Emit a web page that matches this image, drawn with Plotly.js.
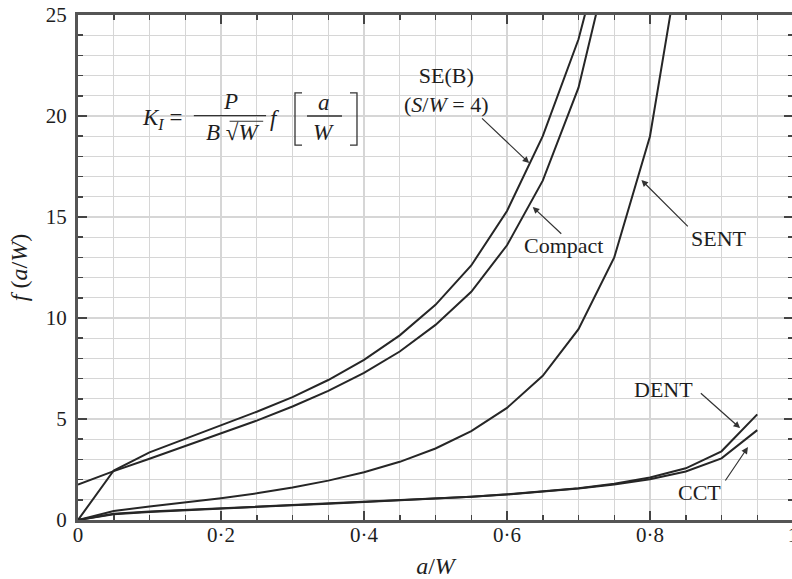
<!DOCTYPE html>
<html>
<head>
<meta charset="utf-8">
<script src="https://cdn.plot.ly/plotly-3.0.1.min.js"></script>
<style>
html,body{margin:0;padding:0;background:#fff;overflow:hidden;}
#chart{width:800px;height:579px;}
</style>
</head>
<body>
<div id="chart"></div>
<script>
// ---- data ----
const aW = [0, 0.05, 0.1, 0.15, 0.2, 0.25, 0.3, 0.35, 0.4, 0.45, 0.5, 0.55, 0.6, 0.65, 0.7, 0.75, 0.8, 0.85, 0.9, 0.95];

const seb_x = [0, 0.05, 0.1, 0.15, 0.2, 0.25, 0.3, 0.35, 0.4, 0.45, 0.5, 0.55, 0.6, 0.65, 0.7, 0.72];
const seb_y = [0, 2.45, 3.35, 4.02, 4.70, 5.36, 6.08, 6.93, 7.93, 9.14, 10.65, 12.6, 15.3, 19.0, 23.8, 26.5];

const compact_x = [0, 0.05, 0.1, 0.15, 0.2, 0.25, 0.3, 0.35, 0.4, 0.45, 0.5, 0.55, 0.6, 0.65, 0.7, 0.75];
const compact_y = [1.75, 2.42, 3.03, 3.65, 4.27, 4.92, 5.62, 6.39, 7.28, 8.34, 9.66, 11.3, 13.6, 16.8, 21.4, 28.8];

const sent_x = [0, 0.05, 0.1, 0.15, 0.2, 0.25, 0.3, 0.35, 0.4, 0.45, 0.5, 0.55, 0.6, 0.65, 0.7, 0.75, 0.8, 0.85];
const sent_y = [0, 0.45, 0.67, 0.87, 1.08, 1.32, 1.61, 1.95, 2.36, 2.88, 3.54, 4.40, 5.55, 7.14, 9.45, 13.0, 19.0, 29.6];

const dent_x = aW;
const dent_y = [0, 0.31, 0.42, 0.50, 0.58, 0.66, 0.73, 0.81, 0.88, 0.96, 1.05, 1.15, 1.27, 1.41, 1.57, 1.79, 2.10, 2.56, 3.40, 5.23];

const cct_x = aW;
const cct_y = [0, 0.28, 0.40, 0.49, 0.57, 0.65, 0.73, 0.80, 0.88, 0.96, 1.05, 1.15, 1.26, 1.40, 1.56, 1.76, 2.02, 2.40, 3.05, 4.45];

const xTickVals = [0, 0.2, 0.4, 0.6, 0.8, 1];
const xTickText = ["0", "0·2", "0·4", "0·6", "0·8", "1"];
const yTickVals = [0, 5, 10, 15, 20, 25];
const yTickText = ["0", "5", "10", "15", "20", "25"];

// ---- chart ----
const FONT = "'Liberation Serif', 'DejaVu Serif', serif";
const INK = '#1e1e1e';
const lineStyle = {color: '#262626', width: 2};

function tr(x, y, name) {
  return {x: x, y: y, name: name, type: 'scatter', mode: 'lines', line: lineStyle,
          showlegend: false, hoverinfo: 'x+y+name'};
}
const data = [
  tr(seb_x, seb_y, 'SE(B) (S/W = 4)'),
  tr(compact_x, compact_y, 'Compact'),
  tr(sent_x, sent_y, 'SENT'),
  tr(dent_x, dent_y, 'DENT'),
  tr(cct_x, cct_y, 'CCT')
];

function lbl(x, y, text, size) {
  return {x: x, y: y, xref: 'x', yref: 'y', text: text, showarrow: false,
          font: {family: FONT, size: size || 22, color: INK}, xanchor: 'center', yanchor: 'middle'};
}
function arr(x, y, ax, ay) {
  return {x: x, y: y, ax: ax, ay: ay, xref: 'x', yref: 'y', axref: 'x', ayref: 'y',
          text: '', showarrow: true, arrowhead: 2, arrowsize: 1.1, arrowwidth: 1.2,
          arrowcolor: '#333', standoff: 0, startstandoff: 0};
}

const annotations = [
  // curve labels
  lbl(0.5147, 21.3, 'SE(B)<br>(<i>S</i>/<i>W</i> = 4)'),
  lbl(0.6797, 13.6, 'Compact'),
  lbl(0.8965, 13.96, 'SENT'),
  lbl(0.8182, 6.44, 'DENT'),
  lbl(0.8699, 1.34, 'CCT'),
  // arrows
  arr(0.631, 17.67, 0.563, 19.95),
  arr(0.636, 15.5, 0.678, 14.1),
  arr(0.788, 16.83, 0.855, 14.46),
  arr(0.926, 4.55, 0.869, 6.34),
  arr(0.937, 3.61, 0.904, 1.88),
  // formula K_I = P/(B sqrt W) f [a/W]
  {x: 0.148, y: 19.85, xref: 'x', yref: 'y', text: '<i>K</i><sub><i>I</i></sub> =', showarrow: false,
   font: {family: FONT, size: 23, color: INK}, xanchor: 'right', yanchor: 'middle'},
  lbl(0.2126, 20.7, '<i>P</i>', 23),
  lbl(0.2154, 19.2, '<i>B</i> √<i>W</i>', 23),
  lbl(0.2755, 19.9, '<i>f</i>', 23),
  lbl(0.344, 20.66, '<i>a</i>', 23),
  lbl(0.344, 19.2, '<i>W</i>', 23)
];

const shapeLine = {color: '#333', width: 1.3};
const shapes = [
  {type: 'line', xref: 'x', yref: 'y', x0: 0.162, x1: 0.263, y0: 20.02, y1: 20.02, line: shapeLine},
  {type: 'line', xref: 'x', yref: 'y', x0: 0.212, x1: 0.259, y0: 19.74, y1: 19.74, line: {color: '#333', width: 1}},
  {type: 'line', xref: 'x', yref: 'y', x0: 0.3203, x1: 0.3692, y0: 20.0, y1: 20.0, line: shapeLine},
  {type: 'path', xref: 'x', yref: 'y', path: 'M0.3133,21.14 L0.3035,21.14 L0.3035,18.56 L0.3133,18.56', line: shapeLine},
  {type: 'path', xref: 'x', yref: 'y', path: 'M0.3804,21.14 L0.3902,21.14 L0.3902,18.56 L0.3804,18.56', line: shapeLine}
];

const gridColor = '#d6d6d6';
const axisCommon = {
  showline: true, linewidth: 3, linecolor: '#555', mirror: 'allticks',
  ticks: 'inside', ticklen: 9, tickwidth: 2, tickcolor: '#444',
  showgrid: true, gridcolor: gridColor, gridwidth: 1.3, zeroline: false,
  tickfont: {family: FONT, size: 21, color: INK}
};

const layout = {
  width: 800, height: 579,
  margin: {l: 78, r: 7, t: 15, b: 59},
  paper_bgcolor: '#fff', plot_bgcolor: '#fff',
  font: {family: FONT, color: INK},
  xaxis: Object.assign({}, axisCommon, {
    range: [0, 1], tickmode: 'array', tickvals: xTickVals, ticktext: xTickText,
    ticklabelstandoff: -6,
    minor: {tickmode: 'linear', tick0: 0, dtick: 0.05, ticks: 'inside', ticklen: 5, tickwidth: 1.5,
            tickcolor: '#444', showgrid: true, gridcolor: gridColor, gridwidth: 1.3},
    title: {text: '<i>a</i>/<i>W</i>', font: {family: FONT, size: 24, color: INK}, standoff: 18}
  }),
  yaxis: Object.assign({}, axisCommon, {
    range: [0, 25], tickmode: 'array', tickvals: yTickVals, ticktext: yTickText,
    ticklabelstandoff: 4,
    minor: {tickmode: 'linear', tick0: 0, dtick: 1, ticks: 'inside', ticklen: 5, tickwidth: 1.5,
            tickcolor: '#444', showgrid: true, gridcolor: gridColor, gridwidth: 1.3},
    title: {text: '<i>f</i> (<i>a</i>/<i>W</i>)', font: {family: FONT, size: 24, color: INK}, standoff: 12}
  }),
  annotations: annotations,
  shapes: shapes
};

Plotly.newPlot('chart', data, layout, {displayModeBar: false, staticPlot: true});
</script>
</body>
</html>
